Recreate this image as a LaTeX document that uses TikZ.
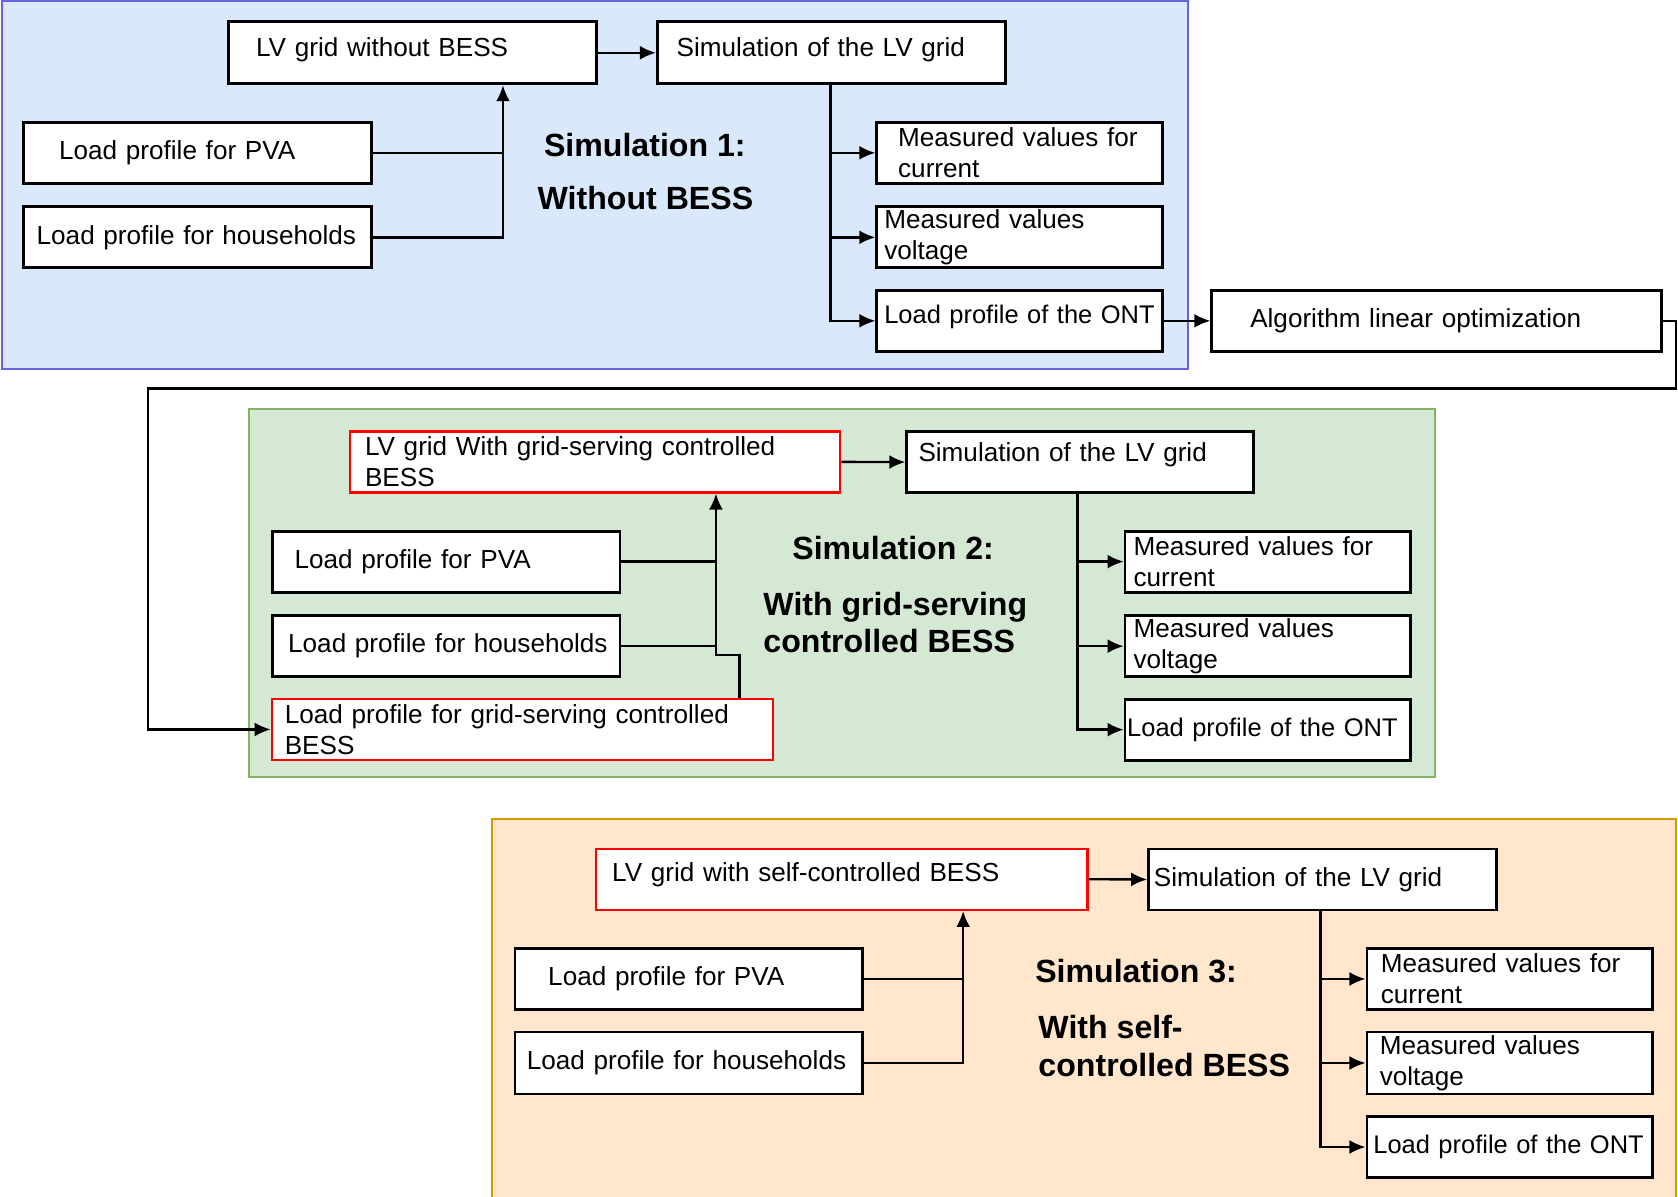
\documentclass[tikz,border=0pt]{standalone}
\usepackage{fontspec}
\setmainfont{Liberation Sans}
\usetikzlibrary{arrows.meta,calc}
\definecolor{bluefill}{HTML}{DAE8FC}
\definecolor{blueline}{RGB}{100,100,225}
\definecolor{greenfill}{HTML}{D5E8D4}
\definecolor{greenline}{HTML}{82B366}
\definecolor{orangefill}{HTML}{FFE6CC}
\definecolor{orangeline}{HTML}{D79B00}
\begin{document}
\begin{tikzpicture}[x=0.5pt,y=-0.5pt,
  bx/.style={draw=black, fill=white, line width=1.3pt, rectangle, inner sep=0pt,
    anchor=north west, align=left, font=\fontsize{12.2}{14.5}\selectfont},
  rbx/.style={bx, draw=red, line width=1.1pt},
  ontbx/.style={bx, font=\fontsize{11.9}{14.5}\selectfont},
  title/.style={anchor=base west, inner sep=0pt, font=\fontsize{15}{17.5}\selectfont\bfseries},
  arr/.style={line width=1.1pt, -{Latex[length=7.5pt,width=6.5pt]}},
  ln/.style={line width=1.1pt},
  grp/.style={line width=0.8pt}]
\useasboundingbox (0,0) rectangle (1568,1118);
\clip (0,0) rectangle (1568,1118);

% containers
\path[grp, draw=blueline, fill=bluefill] (2,1) rectangle (1110,345);
\path[grp, draw=greenline, fill=greenfill] (233,382) rectangle (1341,726);
\path[grp, draw=orangeline, fill=orangefill] (460,765) rectangle (1566,1130);

% ---------- Simulation 1 ----------
\node[bx, minimum width=172pt, minimum height=29pt, text width=146pt, text depth=5.5pt] (lv1) at (212,19) {\mbox{LV grid without BESS}};
\node[bx, minimum width=162.5pt, minimum height=29pt, text width=144.5pt, text depth=5.5pt] (sim1) at (613,19) {\mbox{Simulation of the LV grid}};
\node[bx, minimum width=162.5pt, minimum height=28.5pt, text width=129.5pt] (pva1) at (21,113) {\mbox{Load profile for PVA}};
\node[bx, minimum width=162.5pt, minimum height=28.5pt, text width=150.5pt] (hh1) at (21,192) {\mbox{Load profile for households}};
\node[bx, minimum width=133.5pt, minimum height=28.5pt, text width=113.5pt] (cur1) at (818,113) {\mbox{Measured values for}\\current};
\node[bx, minimum width=133.5pt, minimum height=28.5pt, text width=126.5pt] (vol1) at (818,192) {\mbox{Measured values}\\voltage};
\node[ontbx, minimum width=133.5pt, minimum height=28.5pt, text width=126.5pt, text depth=6.5pt] (ont1) at (818,270) {\mbox{Load profile of the ONT}};
\node[bx, minimum width=210pt, minimum height=28.5pt, text width=174pt] (alg) at (1131,270) {\mbox{Algorithm linear optimization}};

\node[title] (t1a) at (508,146) {Simulation 1:};
\node[title] (t1b) at (502,196) {Without BESS};

% ---------- Simulation 2 ----------
\node[rbx, minimum width=229pt, minimum height=28.5pt, text width=215pt] (lv2) at (326,402) {\mbox{LV grid With grid-serving controlled}\\BESS};
\node[bx, minimum width=162pt, minimum height=28.5pt, text width=151pt, text depth=9pt] (sim2) at (846,402) {\mbox{Simulation of the LV grid}};
\node[bx, minimum width=162.5pt, minimum height=28.5pt, text width=141.5pt] (pva2) at (253,495) {\mbox{Load profile for PVA}};
\node[bx, minimum width=162.5pt, minimum height=28.5pt, text width=147.5pt] (hh2) at (253,574) {\mbox{Load profile for households}};
\node[rbx, minimum width=234pt, minimum height=28.5pt, text width=222pt] (bess2) at (253,652) {\mbox{Load profile for grid-serving controlled}\\BESS};
\node[bx, minimum width=133.5pt, minimum height=28.5pt, text width=125.5pt] (cur2) at (1050,495) {\mbox{Measured values for}\\current};
\node[bx, minimum width=133.5pt, minimum height=28.5pt, text width=125.5pt] (vol2) at (1050,574) {\mbox{Measured values}\\voltage};
\node[ontbx, minimum width=133.5pt, minimum height=28.5pt, text width=131.5pt] (ont2) at (1050,652) {\mbox{Load profile of the ONT}};

\node[title] (t2a) at (740,523) {Simulation 2:};
\node[title] (t2b) at (713,575) {With grid-serving};
\node[title] (t2c) at (713,610) {controlled BESS};

% ---------- Simulation 3 ----------
\node[rbx, minimum width=229.5pt, minimum height=28.5pt, text width=214.5pt, text depth=7pt] (lv3) at (556,792) {\mbox{LV grid with self-controlled BESS}};
\node[bx, minimum width=162.5pt, minimum height=28.5pt, text width=157.5pt] (sim3) at (1072,792) {\mbox{Simulation of the LV grid}};
\node[bx, minimum width=162.5pt, minimum height=28.5pt, text width=131.5pt] (pva3) at (480,885) {\mbox{Load profile for PVA}};
\node[bx, minimum width=162.5pt, minimum height=29pt, text width=151.5pt] (hh3) at (480,963) {\mbox{Load profile for households}};
\node[bx, minimum width=133.5pt, minimum height=28.5pt, text width=120.5pt] (cur3) at (1276,885) {\mbox{Measured values for}\\current};
\node[bx, minimum width=133.5pt, minimum height=29pt, text width=121.5pt] (vol3) at (1276,963) {\mbox{Measured values}\\voltage};
\node[ontbx, minimum width=133.5pt, minimum height=28.5pt, text width=127.5pt] (ont3) at (1276,1042) {\mbox{Load profile of the ONT}};

\node[title] (t3a) at (967,918) {Simulation 3:};
\node[title] (t3b) at (970,970) {With self-};
\node[title] (t3c) at (970,1006) {controlled BESS};

% ---------- connectors ----------
% Simulation 1
\coordinate (j1) at (470,0);
\coordinate (b1) at (776,0);
\draw[arr] (lv1.east) -- (sim1.west);
\draw[arr] (pva1.east) -| (lv1.south -| j1);
\draw[ln] (hh1.east) -| (pva1.east -| j1);
\draw[arr] (sim1.south -| b1) |- (cur1.west);
\draw[arr] (sim1.south -| b1) |- (vol1.west);
\draw[arr] (sim1.south -| b1) |- (ont1.west);
\draw[arr] (ont1.east) -- (alg.west);
% feedback
\coordinate (fbr) at (1566,0);
\coordinate (fbl) at (138,363);
\draw[arr] (alg.east) -| (fbr |- fbl) -- (fbl) |- (bess2.west);

% Simulation 2
\coordinate (j2) at (669,612);
\coordinate (k2) at (691,612);
\coordinate (b2) at (1007,0);
\draw[arr] (lv2.east) -- (sim2.west);
\draw[ln] (pva2.east) -- (pva2.east -| j2);
\draw[ln] (hh2.east) -- (hh2.east -| j2);
\draw[arr] (bess2.north -| k2) -- (k2) -- (j2) -- (lv2.south -| j2);
\draw[arr] (sim2.south -| b2) |- (cur2.west);
\draw[arr] (sim2.south -| b2) |- (vol2.west);
\draw[arr] (sim2.south -| b2) |- (ont2.west);

% Simulation 3
\coordinate (j3) at (900,0);
\coordinate (b3) at (1234,0);
\draw[arr] (lv3.east) -- (sim3.west);
\draw[arr] (pva3.east) -| (lv3.south -| j3);
\draw[ln] (hh3.east) -| (pva3.east -| j3);
\draw[arr] (sim3.south -| b3) |- (cur3.west);
\draw[arr] (sim3.south -| b3) |- (vol3.west);
\draw[arr] (sim3.south -| b3) |- (ont3.west);
\end{tikzpicture}
\end{document}
